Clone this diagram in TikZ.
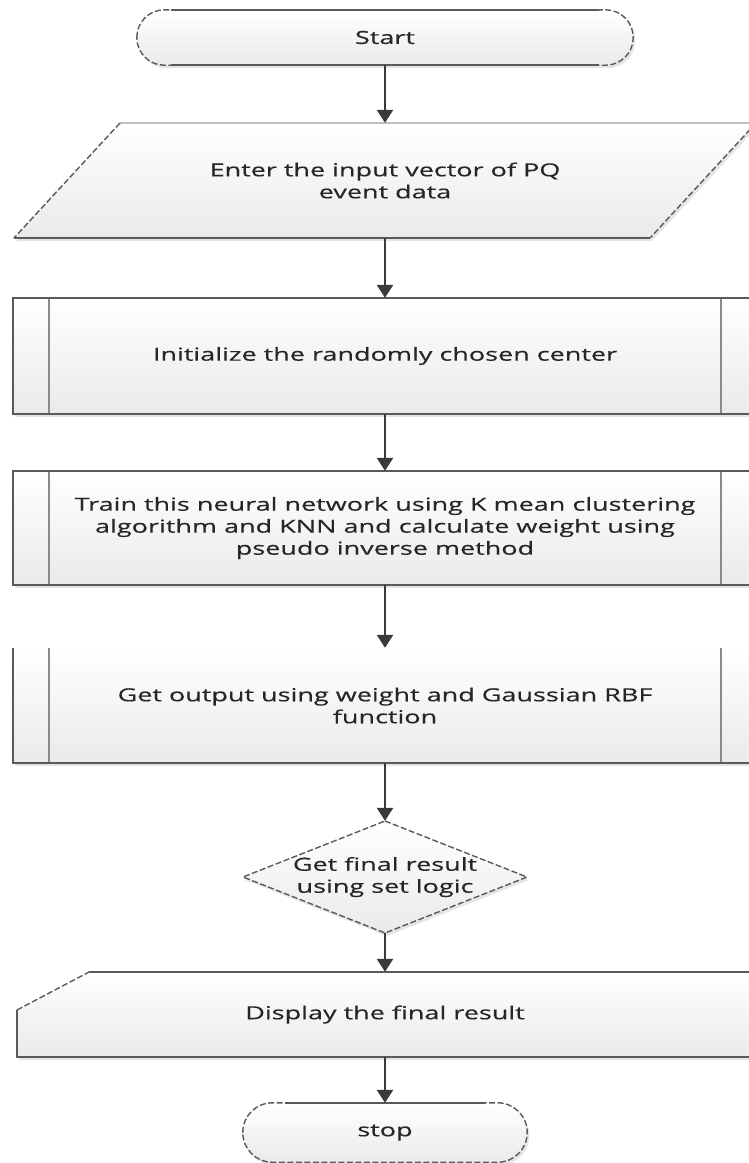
\documentclass[tikz,border=0pt]{standalone}
\usepackage{fontspec}
\setmainfont{Open Sans}[FakeStretch=1.5, FakeBold=0.4]
\usetikzlibrary{arrows.meta}

\definecolor{inkc}{HTML}{262626}
\definecolor{edgec}{HTML}{5A5A5A}
\definecolor{ruled}{HTML}{8A8A8A}
\definecolor{arrowc}{HTML}{3A3A3A}
\definecolor{boxlo}{HTML}{EAEAEA}
\definecolor{shadec}{HTML}{D0D0D0}

\begin{document}
\begin{tikzpicture}[x=1pt,y=-1pt,
  txt/.style={align=center, font=\fontsize{18}{22}\selectfont, text=inkc, inner sep=0pt},
  fillbody/.style={top color=white, bottom color=boxlo},
  shade/.style={fill=shadec, opacity=0.55},
  hard/.style={draw=edgec, line width=1.6pt},
  soft/.style={draw=edgec, line width=1.4pt, dash pattern=on 6pt off 2.5pt},
  faint/.style={draw=ruled!55, line width=1.2pt},
  divider/.style={draw=ruled, line width=1.6pt},
  flow/.style={draw=arrowc, line width=2.6pt, -{Triangle[length=13pt,width=16pt]}}
]
% page
\fill[white] (0,0) rectangle (749,1163);
\useasboundingbox (0,0) rectangle (749,1163);

% ---------- start terminator ----------
\node[txt, minimum width=496pt, minimum height=55pt] (start) at (385,37.5) {};
\path[shade, rounded corners=27.5pt] ([shift={(2pt,-3pt)}]start.south west) rectangle ([shift={(2pt,-3pt)}]start.north east);
\path[fillbody, soft, rounded corners=27.5pt] (start.south west) rectangle (start.north east);
\draw[hard] ([xshift=-214pt]start.north) -- ([xshift=214pt]start.north);
\draw[hard] ([xshift=-214pt]start.south) -- ([xshift=214pt]start.south);
\node[txt] at (start.center) {Start};

% ---------- input parallelogram ----------
\path[shade] (122,126) -- (758,126) -- (652,241) -- (16,241) -- cycle;
\path[fillbody] (120,123) -- (756,123) -- (650,238) -- (14,238) -- cycle;
\draw[faint] (120,123) -- (756,123);
\draw[soft] (120,123) -- (14,238);
\draw[soft] (756,123) -- (650,238);
\draw[hard] (14,238) -- (650,238);
\node[txt, minimum width=500pt, minimum height=115pt] (input) at (385,180.5)
  {Enter the input vector of PQ\\event data};

% ---------- predefined process: initialise ----------
\path[shade] (15,301) rectangle (759,417);
\path[fillbody] (13,298) rectangle (757,414);
\draw[divider] (49,298) -- (49,414);
\draw[divider] (721,298) -- (721,414);
\draw[hard] (13,298) rectangle (757,414);
\node[txt, minimum width=600pt, minimum height=116pt] (init) at (385,356)
  {Initialize the randomly chosen center};

% ---------- predefined process: training ----------
\path[shade] (15,474) rectangle (759,588);
\path[fillbody] (13,471) rectangle (757,585);
\draw[divider] (49,471) -- (49,585);
\draw[divider] (721,471) -- (721,585);
\draw[hard] (13,471) rectangle (757,585);
\node[txt, minimum width=600pt, minimum height=114pt] (train) at (385,528)
  {Train this neural network using K mean clustering\\algorithm and KNN and calculate weight using\\pseudo inverse method};

% ---------- predefined process: output ----------
\path[shade] (15,651) rectangle (759,766);
\path[fillbody] (13,648) rectangle (757,763);
\draw[divider] (49,648) -- (49,763);
\draw[divider] (721,648) -- (721,763);
\draw[hard] (13,648) -- (13,763) -- (757,763) -- (757,648);
\node[txt, minimum width=600pt, minimum height=115pt] (output) at (385,705.5)
  {Get output using weight and Gaussian RBF\\function};

% ---------- decision ----------
\path[shade] (387,824) -- (529,880) -- (387,936) -- (245,880) -- cycle;
\path[fillbody] (385,821) -- (527,877) -- (385,933) -- (243,877) -- cycle;
\draw[soft] (385,821) -- (527,877) -- (385,933) -- (243,877) -- cycle;
\node[txt, minimum width=200pt, minimum height=112pt] (decide) at (385,877)
  {Get final result\\using set logic};

% ---------- display ----------
\path[shade] (91,975) -- (759,975) -- (759,1060) -- (19,1060) -- (19,1013) -- cycle;
\path[fillbody] (89,972) -- (757,972) -- (757,1057) -- (17,1057) -- (17,1010) -- cycle;
\draw[soft] (17,1010) -- (89,972);
\draw[hard] (89,972) -- (757,972) -- (757,1057) -- (17,1057) -- (17,1010);
\node[txt, minimum width=500pt, minimum height=85pt] (display) at (385,1014.5)
  {Display the final result};

% ---------- stop terminator ----------
\node[txt, minimum width=284pt, minimum height=59pt] (stop) at (385,1132.5) {};
\path[shade, rounded corners=29.5pt] ([shift={(2pt,-3pt)}]stop.south west) rectangle ([shift={(2pt,-3pt)}]stop.north east);
\path[fillbody, soft, rounded corners=29.5pt] (stop.south west) rectangle (stop.north east);
\draw[hard] ([xshift=-100pt]stop.north) -- ([xshift=100pt]stop.north);
\node[txt] at (stop.center) {stop};

% ---------- connectors ----------
\draw[flow] (start.south) -- (input.north);
\draw[flow] (input.south) -- (init.north);
\draw[flow] (init.south) -- (train.north);
\draw[flow] (train.south) -- (output.north);
\draw[flow] (output.south) -- (decide.north);
\draw[flow] (decide.south) -- (display.north);
\draw[flow] (display.south) -- (stop.north);
\end{tikzpicture}
\end{document}
